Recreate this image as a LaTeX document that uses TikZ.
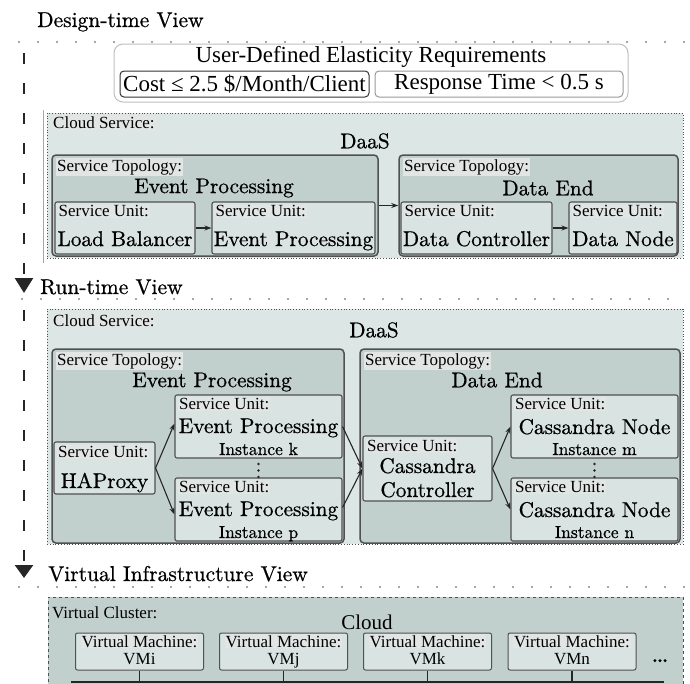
\documentclass[tikz,border=0pt]{standalone}
\usepackage{fontspec}
\setmainfont{lmroman10-regular.otf}[FakeBold=0.7]
\newfontfamily\tmsfont{Liberation Serif}
\usetikzlibrary{arrows.meta}

\definecolor{outerfill}{HTML}{DCE6E4}
\definecolor{topofill}{HTML}{C2D0CD}
\definecolor{unitfill}{HTML}{D9E4E2}
\definecolor{lblfill}{HTML}{E1E5E4}
\definecolor{edgec}{HTML}{505050}

\begin{document}
\begin{tikzpicture}[x=1pt,y=-1pt,
  big/.style={font=\fontsize{21.3}{24}\selectfont, inner sep=0pt},
  mid/.style={font=\fontsize{17.5}{20}\selectfont, inner sep=0pt},
  hdr/.style={font=\fontsize{21.5}{24}\selectfont, inner sep=0pt, anchor=base west},
  lbl/.style={font=\tmsfont\fontsize{17}{19}\selectfont, fill=lblfill, inner sep=1pt, anchor=north west},
  reqtxt/.style={font=\tmsfont\fontsize{23}{26}\selectfont, inner sep=0pt},
  reqsub/.style={font=\tmsfont\fontsize{23}{26}\selectfont, inner sep=0pt, fill=white, rounded corners=4pt, line width=1pt},
  reqbox/.style={draw=black!25, fill=white, rounded corners=9pt, line width=1pt},
  cloudbox/.style={draw=edgec, dotted, fill=outerfill, line width=0.8pt},
  vibox/.style={draw=edgec, dashed, fill=topofill, line width=0.9pt},
  topobox/.style={draw=edgec, fill=topofill, rounded corners=4pt, line width=1.5pt},
  unitbox/.style={draw=edgec, fill=unitfill, rounded corners=2pt, line width=1.1pt},
  vmbox/.style={draw=edgec, fill=unitfill, rounded corners=2pt, line width=1pt},
  vmtxt/.style={font=\tmsfont\fontsize{17}{19}\selectfont, inner sep=1pt},
  arr/.style={-{Stealth[length=7pt,width=5pt]}, line width=1.1pt, draw=black!85},
  dotrow/.style={line width=1.7pt, line cap=round, dash pattern=on 0pt off 19pt, draw=black!70},
  vdash/.style={line width=2.5pt, dash pattern=on 11pt off 19pt, draw=black!85},
  link/.style={line width=1.2pt, draw=black!85}
]
\useasboundingbox (0,0) rectangle (690,683);
\clip (0,0) rectangle (690,683);

% ---------------- Design-time view ----------------
\node[hdr] (dtview) at (37,27) {Design-time View};
\coordinate (dtl) at (19,42);
\coordinate (dtr) at (686,42);
\draw[dotrow] (dtl) -- (dtr);

\node[reqbox, minimum width=514pt, minimum height=58pt] (req) at (371,73) {};
\node[reqtxt] (reqt) at (371,57) {User-Defined Elasticity Requirements};
\node[reqsub, draw=black!80, minimum width=249pt, minimum height=26pt] (cost) at (244.5,84) {Cost ≤ 2.5 \$/Month/Client};
\node[reqsub, draw=black!40, minimum width=248pt, minimum height=26pt] (resp) at (499,84) {Response Time < 0.5 s};

% left timeline, first segment
\coordinate (a1s) at (24,53);
\coordinate (a1e) at (24,293);
\draw[vdash, -{Triangle[width=18pt,length=15pt]}] (a1s) -- (a1e);
\coordinate (g1) at (43.5,110);
\coordinate (g2) at (43.5,263);
\draw[black!35, line width=0.8pt] (g1) -- (g2);

\node[cloudbox, minimum width=636pt, minimum height=145pt] (dtcs) at (365,185.5) {};
\node[lbl] (dtcsl) at (52,116) {Cloud Service:};
\node[big] (dtdaas) at (365,141) {DaaS};

\node[topobox, minimum width=326pt, minimum height=101pt] (dtep) at (215,205.5) {};
\node[lbl] (dtepl) at (56,158) {Service Topology:};
\node[big] (dtept) at (214,188) {Event Processing};
\node[unitbox, minimum width=140pt, minimum height=52pt] (dtlb) at (125,228) {};
\node[lbl] (dtlbl) at (57.5,204.5) {Service Unit:};
\node[big, anchor=base] (dtlbt) at (125,246) {Load Balancer};
\node[unitbox, minimum width=163pt, minimum height=52pt] (dteu) at (293.5,228) {};
\node[lbl] (dteul) at (214.5,204.5) {Service Unit:};
\node[big, anchor=base] (dteut) at (293.5,246) {Event Processing};

\node[topobox, minimum width=279pt, minimum height=101pt] (dtde) at (538.5,205.5) {};
\node[lbl] (dtdel) at (403,158) {Service Topology:};
\node[big] (dtdet) at (548,188) {Data End};
\node[unitbox, minimum width=151pt, minimum height=52pt] (dtdc) at (476.5,228) {};
\node[lbl] (dtdcl) at (403.5,204.5) {Service Unit:};
\node[big, anchor=base] (dtdct) at (476.5,246) {Data Controller};
\node[unitbox, minimum width=108pt, minimum height=52pt] (dtdn) at (623,228) {};
\node[lbl] (dtdnl) at (571.5,204.5) {Service Unit:};
\node[big, anchor=base] (dtdnt) at (623,246) {Data Node};

\draw[arr] (dtlb) -- (dteu);
\draw[arr] (dtdc) -- (dtdn);
\draw[arr] (dtep) -- (dtde);

% ---------------- Run-time view ----------------
\node[hdr] (rtview) at (40,294) {Run-time View};
\coordinate (rtl) at (22,299);
\coordinate (rtr) at (686,299);
\draw[dotrow] (rtl) -- (rtr);

\coordinate (a2s) at (24,310);
\coordinate (a2e) at (24,578);
\draw[vdash, -{Triangle[width=18pt,length=13pt]}] (a2s) -- (a2e);

\node[cloudbox, minimum width=636pt, minimum height=235pt] (rtcs) at (365,426.5) {};
\node[lbl] (rtcsl) at (52,313) {Cloud Service:};
\node[big] (rtdaas) at (374,330) {DaaS};

\node[topobox, minimum width=292pt, minimum height=194pt] (rtep) at (198,446) {};
\node[lbl] (rtepl) at (56,352) {Service Topology:};
\node[big] (rtept) at (212,382) {Event Processing};

\node[unitbox, minimum width=101pt, minimum height=52pt] (hap) at (104.5,468) {};
\node[lbl] (hapl) at (57,445) {Service Unit:};
\node[big, anchor=base] (hapt) at (104.5,488) {HAProxy};

\node[unitbox, minimum width=167pt, minimum height=63pt] (epk) at (258.5,426.5) {};
\node[lbl] (epkl) at (178,397) {Service Unit:};
\node[big, anchor=base] (epkt) at (258.5,433) {Event Processing};
\node[mid, anchor=base] (epki) at (258.5,455) {Instance k};
\node[unitbox, minimum width=167pt, minimum height=63pt] (epp) at (258.5,509.5) {};
\node[lbl] (eppl) at (178,480) {Service Unit:};
\node[big, anchor=base] (eppt) at (258.5,516) {Event Processing};
\node[mid, anchor=base] (eppi) at (258.5,538) {Instance p};
\foreach \yy in {464,470.5,477} \fill[black!85] (258.5,\yy) circle (1.3pt);

\node[topobox, minimum width=320pt, minimum height=194pt] (rtde) at (520,446) {};
\node[lbl] (rtdel) at (364,352) {Service Topology:};
\node[big] (rtdet) at (497,380) {Data End};

\node[unitbox, minimum width=129pt, minimum height=65pt] (cc) at (427.5,468.5) {};
\node[lbl] (ccl) at (366,439) {Service Unit:};
\node[big, anchor=base] (cct1) at (427.5,473) {Cassandra};
\node[big, anchor=base] (cct2) at (427.5,497) {Controller};

\node[unitbox, minimum width=167pt, minimum height=63pt] (cnm) at (594.5,426.5) {};
\node[lbl] (cnml) at (514,397) {Service Unit:};
\node[big, anchor=base] (cnmt) at (594.5,434) {Cassandra Node};
\node[mid, anchor=base] (cnmi) at (594.5,455) {Instance m};
\node[unitbox, minimum width=167pt, minimum height=63pt] (cnn) at (594.5,509.5) {};
\node[lbl] (cnnl) at (514,480) {Service Unit:};
\node[big, anchor=base] (cnnt) at (594.5,517) {Cassandra Node};
\node[mid, anchor=base] (cnni) at (594.5,538) {Instance n};
\foreach \yy in {464,470.5,477} \fill[black!85] (594.5,\yy) circle (1.3pt);

\draw[arr] (hap.east) -- ([yshift=3pt]epk.west);
\draw[arr] (hap.east) -- ([yshift=-5pt]epp.west);
\draw[arr] (epk.east) -- (cc.west);
\draw[arr] ([yshift=2pt]epp.east) -- (cc.west);
\draw[arr] (cc.east) -- (cnm.west);
\draw[arr] (cc.east) -- (cnn.west);

% ---------------- Virtual infrastructure view ----------------
\node[hdr] (viview) at (48,581) {Virtual Infrastructure View};
\coordinate (vil) at (19,587);
\coordinate (vir) at (686,587);
\draw[dotrow] (vil) -- (vir);

\node[vibox, minimum width=635pt, minimum height=100pt] (vic) at (365.5,647) {};
\node[lbl, fill=none] (vicl) at (51,605) {Virtual Cluster:};
\node[font=\tmsfont\fontsize{21}{24}\selectfont, inner sep=0pt, anchor=base] (vict) at (367,629) {Cloud};

\coordinate (busl) at (71,682);
\coordinate (busr) at (664,682);
\foreach \nm/\xx/\lab in {vmi/139.5/VMi, vmj/283.5/VMj, vmk/427.5/VMk, vmn/572/VMn}{
  \node[vmbox, minimum width=128pt, minimum height=37pt] (\nm) at (\xx,651.5) {};
  \node[vmtxt, fill=lblfill, anchor=base] (\nm l) at (\xx,647) {Virtual Machine:};
  \node[vmtxt, anchor=base] (\nm t) at (\xx,664) {\lab};
  \draw[link] (\nm.south) -- (\nm.south |- busl);
}
\draw[link] (busl) -- (busr);
\node[font=\fontsize{26}{28}\selectfont, inner sep=0pt, anchor=base] (vimore) at (660,662) {\dots};
\end{tikzpicture}
\end{document}
